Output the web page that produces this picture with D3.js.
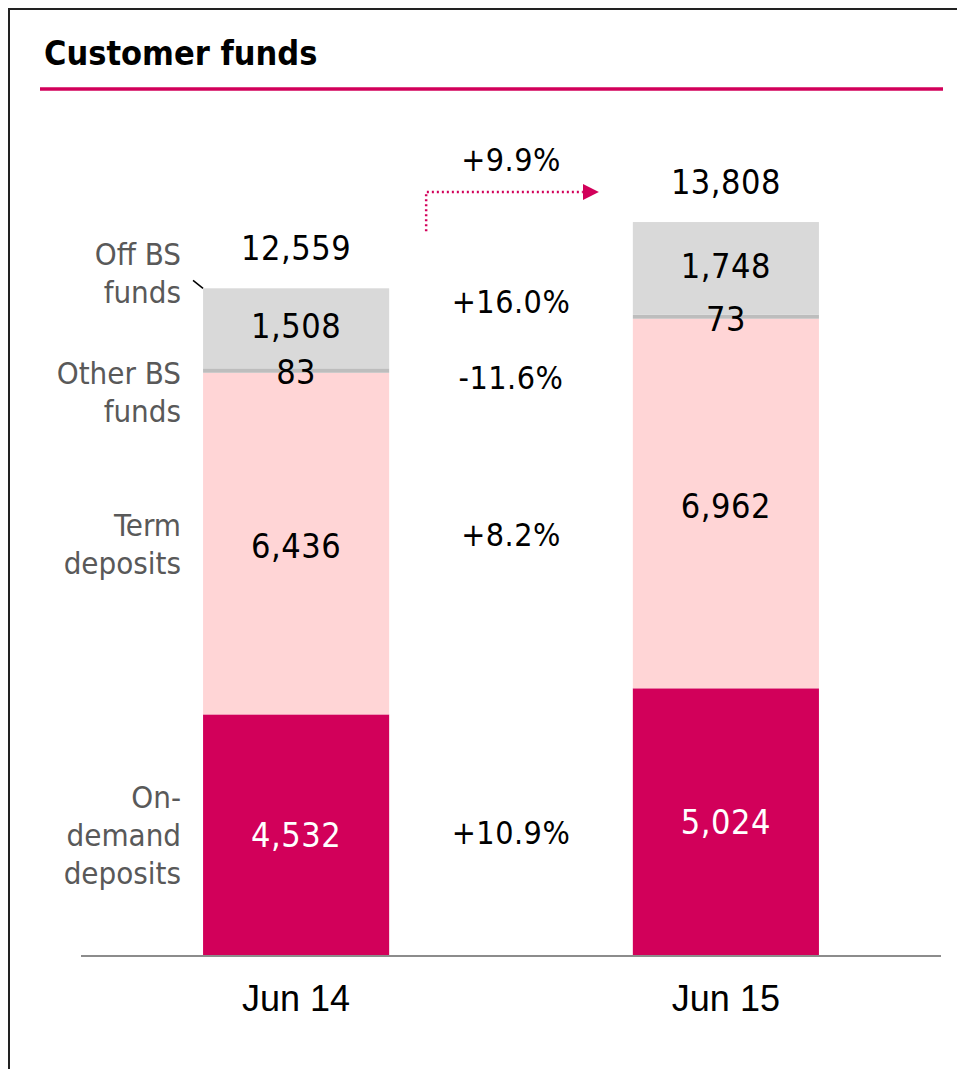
<!DOCTYPE html>
<html>
<head>
<meta charset="utf-8">
<script src="https://cdn.jsdelivr.net/npm/d3@7"></script>
<style>
  html, body { margin: 0; padding: 0; background: #fff; }
  svg { display: block; }
</style>
</head>
<body>
<svg id="chart" width="957" height="1069"></svg>
<script>
// Customer funds by type, EUR m
const categories = ["Jun 14", "Jun 15"];
const onDemand = [4532, 5024];
const termDeposits = [6436, 6962];
const otherBS = [83, 73];
const offBS = [1508, 1748];
const totals = [12559, 13808];
const segmentGrowth = ["+10.9%", "+8.2%", "-11.6%", "+16.0%"];
const totalGrowth = "+9.9%";
const segmentKeys = ["onDemand", "term", "other", "off"];
const segmentNames = [["On-", "demand", "deposits"], ["Term", "deposits"], ["Other BS", "funds"], ["Off BS", "funds"]];
const segmentColors = ["#D2005A", "#FFD5D6", "#BDBDBD", "#D9D9D9"];
const labelColors = ["#ffffff", "#000000", "#000000", "#000000"];

const rows = categories.map((c, i) => ({
  cat: c, onDemand: onDemand[i], term: termDeposits[i], other: otherBS[i], off: offBS[i], total: totals[i]
}));

const svg = d3.select("#chart");
const numFont = "'DejaVu Sans Condensed', 'DejaVu Sans', sans-serif";

// frame
svg.append("rect").attr("x", 9).attr("y", 9).attr("width", 1000).attr("height", 1100)
  .attr("fill", "none").attr("stroke", "#222").attr("stroke-width", 2);

// title
svg.append("text").attr("x", 44).attr("y", 65).text("Customer funds")
  .attr("font-family", numFont).attr("font-weight", "bold").attr("font-size", 34).attr("fill", "#000");
svg.append("line").attr("x1", 40).attr("x2", 943).attr("y1", 89).attr("y2", 89)
  .attr("stroke", "#D2005A").attr("stroke-width", 3.5);

const x = d3.scaleBand().domain(categories).range([81, 941]).paddingInner(0.567).paddingOuter(0.284);
const y = d3.scaleLinear().domain([0, 13808]).range([955, 222]);

const stack = d3.stack().keys(segmentKeys)(rows);

// bars
stack.forEach((layer, li) => {
  svg.append("g").selectAll("rect").data(layer).join("rect")
    .attr("x", d => x(d.data.cat))
    .attr("width", x.bandwidth())
    .attr("y", d => y(d[1]))
    .attr("height", d => y(d[0]) - y(d[1]))
    .attr("fill", segmentColors[li]);
});

// baseline
svg.append("line").attr("x1", 81).attr("x2", 941).attr("y1", y(0) + 1).attr("y2", y(0) + 1)
  .attr("stroke", "#8c8c8c").attr("stroke-width", 2);

// segment value labels
const labelShift = [0, 2, 4, -2];
stack.forEach((layer, li) => {
  svg.append("g").selectAll("text").data(layer).join("text")
    .attr("x", d => x(d.data.cat) + x.bandwidth() / 2)
    .attr("y", d => (li === 2 ? y(d[1]) : (y(d[0]) + y(d[1])) / 2) + labelShift[li])
    .attr("text-anchor", "middle").attr("dominant-baseline", "central")
    .attr("font-family", numFont).attr("font-size", 34).attr("letter-spacing", 0.5)
    .attr("fill", labelColors[li])
    .text(d => d3.format(",")(d.data[segmentKeys[li]]));
});

// totals above bars
svg.append("g").selectAll("text").data(rows).join("text")
  .attr("x", d => x(d.cat) + x.bandwidth() / 2)
  .attr("y", d => y(d.total) - 40)
  .attr("text-anchor", "middle").attr("dominant-baseline", "central")
  .attr("font-family", numFont).attr("font-size", 34).attr("letter-spacing", 0.5).attr("fill", "#000")
  .text(d => d3.format(",")(d.total));

// category axis labels
svg.append("g").selectAll("text").data(categories).join("text")
  .attr("x", d => x(d) + x.bandwidth() / 2)
  .attr("y", y(0) + 43)
  .attr("text-anchor", "middle").attr("dominant-baseline", "central")
  .attr("font-family", "'Liberation Sans Narrow', 'Arial Narrow', sans-serif").attr("font-size", 36)
  .attr("fill", "#000")
  .text(d => d);

// segment names left of first bar
const first = stack.map(l => l[0]);
const nameX = x(categories[0]) - 22;
segmentNames.forEach((lines, li) => {
  const seg = first[li];
  const mid = li === 2 ? y(seg[1]) + 24 : li === 3 ? y(seg[1]) - 15 : (y(seg[0]) + y(seg[1])) / 2;
  const t = svg.append("text").attr("text-anchor", "end")
    .attr("font-family", numFont).attr("font-size", 31).attr("fill", "#595959");
  lines.forEach((ln, k) => {
    t.append("tspan").attr("x", nameX)
      .attr("y", mid + (k - (lines.length - 1) / 2) * 38)
      .attr("dominant-baseline", "central")
      .text(ln);
  });
});

// leader from Off BS name to bar
const offTop = y(first[3][1]);
svg.append("line")
  .attr("x1", x(categories[0]) - 10).attr("y1", offTop - 8)
  .attr("x2", x(categories[0])).attr("y2", offTop)
  .attr("stroke", "#000").attr("stroke-width", 1.5);

// growth rates between bars
const midX = (x(categories[0]) + x.bandwidth() + x(categories[1])) / 2;
const growthOffset = [5, 11, 36, 4];
stack.forEach((layer, li) => {
  const m = layer.map(d => li === 2 ? y(d[1]) : (y(d[0]) + y(d[1])) / 2);
  svg.append("text")
    .attr("x", midX).attr("y", d3.mean(m) + growthOffset[li])
    .attr("text-anchor", "middle").attr("dominant-baseline", "central")
    .attr("font-family", numFont).attr("font-size", 32).attr("letter-spacing", 0.5).attr("fill", "#000")
    .text(segmentGrowth[li]);
});

// total growth with dotted arrow
const arrowY = y(totals[1]) - 30;
const ax0 = x(categories[0]) + x.bandwidth() + 37;
const ax1 = x(categories[1]) - 50;
svg.append("defs").append("marker")
  .attr("id", "tri").attr("viewBox", "0 0 10 10").attr("refX", 0).attr("refY", 5)
  .attr("markerWidth", 16).attr("markerHeight", 16).attr("markerUnits", "userSpaceOnUse")
  .attr("orient", "auto")
  .append("path").attr("d", "M0,0 L10,5 L0,10 Z").attr("fill", "#D2005A");
svg.append("path")
  .attr("d", `M${ax0},${y(totals[0]) - 57} L${ax0},${arrowY} L${ax1},${arrowY}`)
  .attr("fill", "none").attr("stroke", "#D2005A").attr("stroke-width", 2.5)
  .attr("stroke-dasharray", "2,3").attr("marker-end", "url(#tri)");
svg.append("text")
  .attr("x", midX).attr("y", arrowY - 32)
  .attr("text-anchor", "middle").attr("dominant-baseline", "central")
  .attr("font-family", numFont).attr("font-size", 32).attr("letter-spacing", 0.5).attr("fill", "#000")
  .text(totalGrowth);
</script>
</body>
</html>
